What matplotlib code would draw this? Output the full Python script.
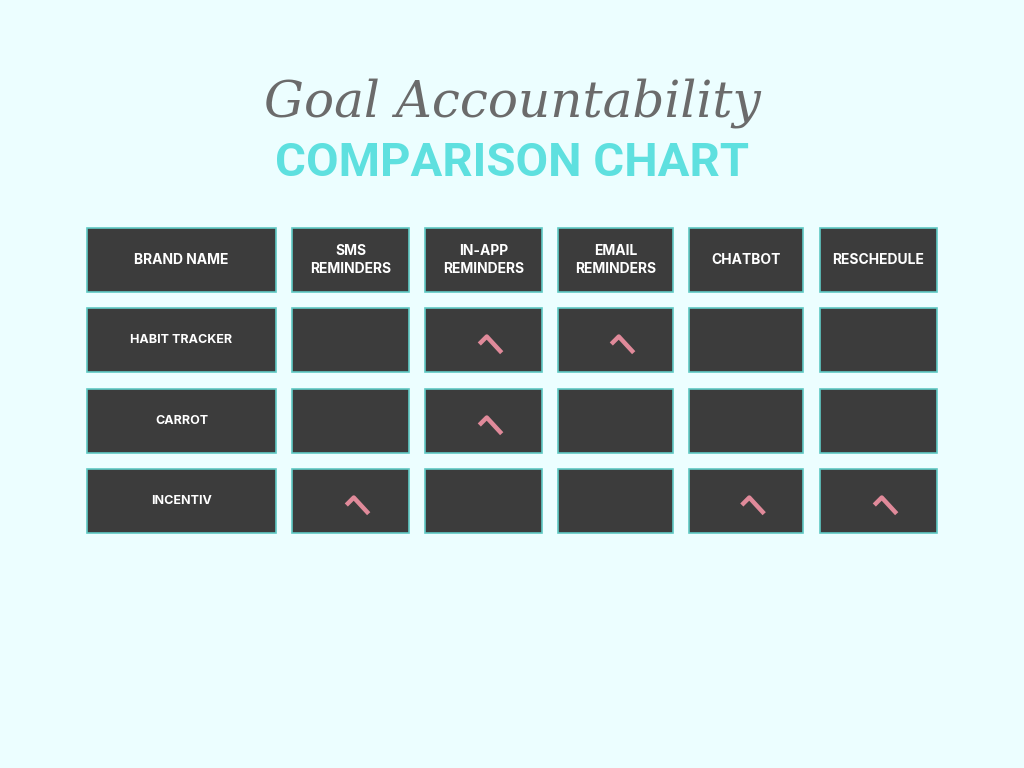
import matplotlib
matplotlib.use("Agg")
import matplotlib.pyplot as plt
from matplotlib.patches import Rectangle
from matplotlib.path import Path

brands = ["HABIT TRACKER", "CARROT", "INCENTIV"]
features = ["SMS\nREMINDERS", "IN-APP\nREMINDERS", "EMAIL\nREMINDERS", "CHATBOT", "RESCHEDULE"]
header_first = "BRAND NAME"
has_feature = [
    [0, 1, 1, 0, 0],
    [0, 1, 0, 0, 0],
    [1, 0, 0, 1, 1],
]

bg = "#ecfeff"
cell = "#3c3c3c"
edge = "#5fc9c4"
check_col = "#e08a9a"

fig = plt.figure(figsize=(10.24, 7.68), dpi=100, facecolor=bg)
ax = fig.add_axes([0, 0, 1, 1])
ax.set_xlim(0, 1024); ax.set_ylim(768, 0); ax.axis("off")
ax.set_facecolor(bg)

col_x = [(87, 276), (292, 409), (425, 542), (558, 673), (689, 803), (820, 937)]
row_y = [(228, 292), (308, 372), (389, 453), (469, 533)]

ax.text(512, 103, "Goal Accountability", ha="center", va="center", fontsize=36,
        color="#6b6b6b", family="DejaVu Serif", style="italic")
ax.text(512, 163, "COMPARISON CHART", ha="center", va="center", fontsize=34,
        color="#5ee0df", family="Roboto", weight="bold")

check = Path([(-0.9, 0.0), (-0.3, 0.6), (0.9, -0.7)], [Path.MOVETO, Path.LINETO, Path.LINETO])

def box(ci, ri, label=None, fs=10):
    x0, x1 = col_x[ci]; y0, y1 = row_y[ri]
    ax.add_patch(Rectangle((x0, y0), x1 - x0, y1 - y0, facecolor=cell, edgecolor=edge, lw=1.2))
    if label:
        ax.text((x0 + x1) / 2, (y0 + y1) / 2, label, ha="center", va="center", color="white",
                fontsize=fs, weight="bold", family="Inter", linespacing=1.4)

box(0, 0, header_first, 10)
for j, f in enumerate(features):
    box(j + 1, 0, f, 10)
for i, b in enumerate(brands):
    box(0, i + 1, b, 9)
    for j in range(len(features)):
        box(j + 1, i + 1)
        if has_feature[i][j]:
            x0, x1 = col_x[j + 1]; y0, y1 = row_y[i + 1]
            ax.scatter([(x0 + x1) / 2 + 7], [(y0 + y1) / 2 + 4], marker=check, s=260,
                       facecolors="none", edgecolors=check_col, linewidths=3.2, zorder=5)

fig.savefig("out.png", dpi=100, facecolor=bg)
